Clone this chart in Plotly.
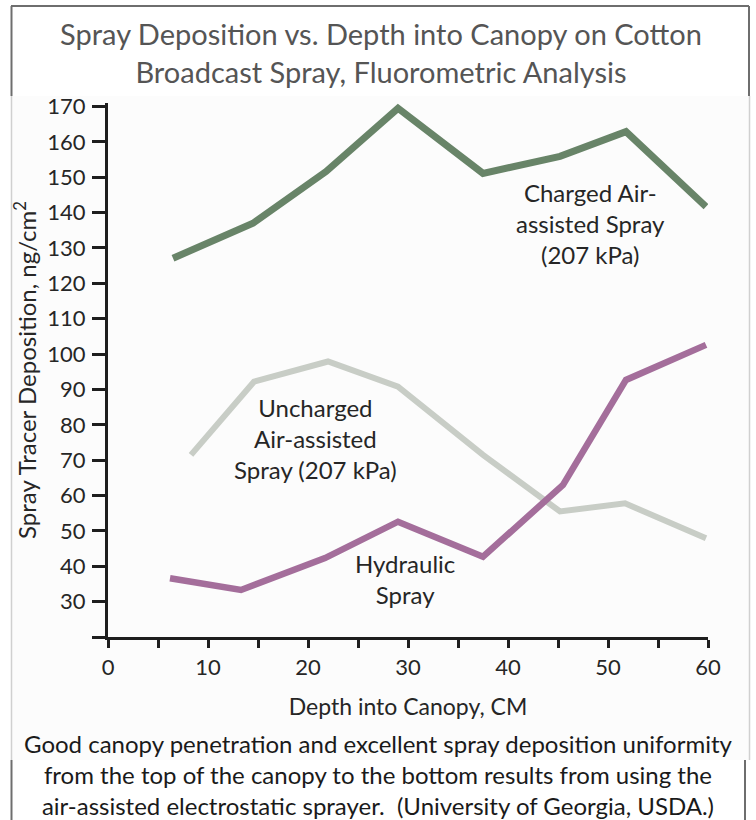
import plotly.graph_objects as go

# ---- data ----
depth_charged = [6.5, 14.5, 21.8, 29.0, 37.5, 45.2, 51.8, 59.8]
charged = [127.1, 137.0, 151.6, 169.5, 151.1, 155.9, 162.9, 141.7]

depth_uncharged = [8.3, 14.6, 22.0, 29.0, 37.5, 45.2, 51.7, 59.8]
uncharged = [71.5, 92.2, 97.9, 90.8, 71.5, 55.5, 57.8, 47.9]

depth_hydraulic = [6.2, 13.3, 21.7, 29.0, 37.5, 45.5, 51.8, 59.8]
hydraulic = [36.6, 33.3, 42.3, 52.6, 42.7, 63.0, 92.7, 102.6]

y_ticks = list(range(30, 171, 10))
y_minor_ticks = [20]

title_text = "Spray Deposition vs. Depth into Canopy on Cotton<br>Broadcast Spray, Fluorometric Analysis"
caption_text = ("Good canopy penetration and excellent spray deposition uniformity<br>"
                "from the top of the canopy to the bottom results from using the<br>"
                "air-assisted electrostatic sprayer.  (University of Georgia, USDA.)")

W, H = 756, 820
ML, MR, MT, MB = 108, 48, 103, 183
PW, PH = W - ML - MR, H - MT - MB

def px(x):
    return (x - ML) / PW

def py(y):
    return (H - MB - y) / PH

FONT = "Lato, Open Sans, sans-serif"
CAL = "Lato, Open Sans, sans-serif"
TXT = "#262626"
AX = "#1e1e1e"

fig = go.Figure()
fig.add_trace(go.Scatter(x=depth_charged, y=charged, mode="lines",
                         line=dict(color="#688468", width=7), name="Charged"))
fig.add_trace(go.Scatter(x=depth_uncharged, y=uncharged, mode="lines",
                         line=dict(color="#c8cdc6", width=6), name="Uncharged"))
fig.add_trace(go.Scatter(x=depth_hydraulic, y=hydraulic, mode="lines",
                         line=dict(color="#a46e9b", width=6.5), name="Hydraulic"))

ann_font = dict(family=FONT, size=24, color=TXT)
annotations = [
    dict(x=48.2, y=136.8, text="Charged Air-<br>assisted Spray<br>(207 kPa)", showarrow=False,
         font=ann_font, xanchor="center", yanchor="middle"),
    dict(x=20.75, y=76.2, text="Uncharged<br>Air-assisted<br>Spray (207 kPa)", showarrow=False,
         font=ann_font, xanchor="center", yanchor="middle"),
    dict(x=29.65, y=36.4, text="Hydraulic<br>Spray", showarrow=False,
         font=ann_font, xanchor="center", yanchor="middle"),
    dict(xref="paper", yref="paper", x=px(378), y=py(774), text=caption_text, showarrow=False,
         font=dict(family=CAL, size=24, color="#1a1a1a"), xanchor="center", yanchor="middle"),
]

line_dark = dict(color="#6e6e6e", width=2)
line_light = dict(color="#d0d0d0", width=1.5)
shapes = [
    dict(type="rect", xref="paper", yref="paper", x0=px(12), x1=px(749), y0=py(96), y1=py(760),
         fillcolor="#fcfcfc", line=dict(width=0), layer="below"),
    dict(type="line", xref="paper", yref="paper", x0=px(11), x1=px(749), y0=py(6), y1=py(6), line=line_dark),
    dict(type="line", xref="paper", yref="paper", x0=px(11.5), x1=px(11.5), y0=py(6), y1=py(96), line=line_dark),
    dict(type="line", xref="paper", yref="paper", x0=px(749), x1=px(749), y0=py(6), y1=py(96), line=line_dark),
    dict(type="line", xref="paper", yref="paper", x0=px(11.5), x1=px(11.5), y0=py(96), y1=py(760), line=line_light),
    dict(type="line", xref="paper", yref="paper", x0=px(749.5), x1=px(749.5), y0=py(96), y1=py(760), line=line_light),
    dict(type="line", xref="paper", yref="paper", x0=px(11.5), x1=px(11.5), y0=py(760), y1=py(820), line=line_dark),
    dict(type="line", xref="paper", yref="paper", x0=px(745), x1=px(745), y0=py(760), y1=py(820), line=line_dark),
]

fig.update_layout(
    width=W, height=H,
    margin=dict(l=ML, r=MR, t=MT, b=MB, autoexpand=False),
    paper_bgcolor="white", plot_bgcolor="rgba(0,0,0,0)",
    showlegend=False,
    title=dict(text=title_text, x=381 / W, xref="container", xanchor="center",
               y=1 - 45 / H, yref="container", yanchor="middle",
               font=dict(family=CAL, size=29, color="#555555")),
    annotations=annotations,
    shapes=shapes,
    xaxis=dict(range=[0, 60], tickmode="linear", tick0=0, dtick=10,
               showline=True, linecolor=AX, linewidth=3,
               ticks="outside", ticklen=8, tickwidth=2.5, tickcolor=AX,
               minor=dict(dtick=5, ticks="outside", ticklen=8, tickwidth=2.5, tickcolor=AX, showgrid=False),
               showgrid=False, zeroline=False,
               tickfont=dict(family=FONT, size=22, color=TXT),
               ticklabelstandoff=1,
               title=dict(text="Depth into Canopy, CM", standoff=20,
                          font=dict(family=FONT, size=23, color=TXT))),
    yaxis=dict(range=[20, 171], tickmode="array", tickvals=y_ticks,
               showline=True, linecolor=AX, linewidth=3,
               ticks="outside", ticklen=13, tickwidth=2.5, tickcolor=AX,
               minor=dict(tickvals=y_minor_ticks, ticks="outside", ticklen=13, tickwidth=2.5,
                          tickcolor=AX, showgrid=False),
               showgrid=False, zeroline=False,
               tickfont=dict(family=FONT, size=22, color=TXT),
               ticklabelstandoff=2,
               title=dict(text="Spray Tracer Deposition, ng/cm<sup>2</sup>", standoff=4,
                          font=dict(family=FONT, size=24, color=TXT))),
)

fig.write_html("out.html", post_script="document.body.style.margin='0';",
               config={"displayModeBar": False})
